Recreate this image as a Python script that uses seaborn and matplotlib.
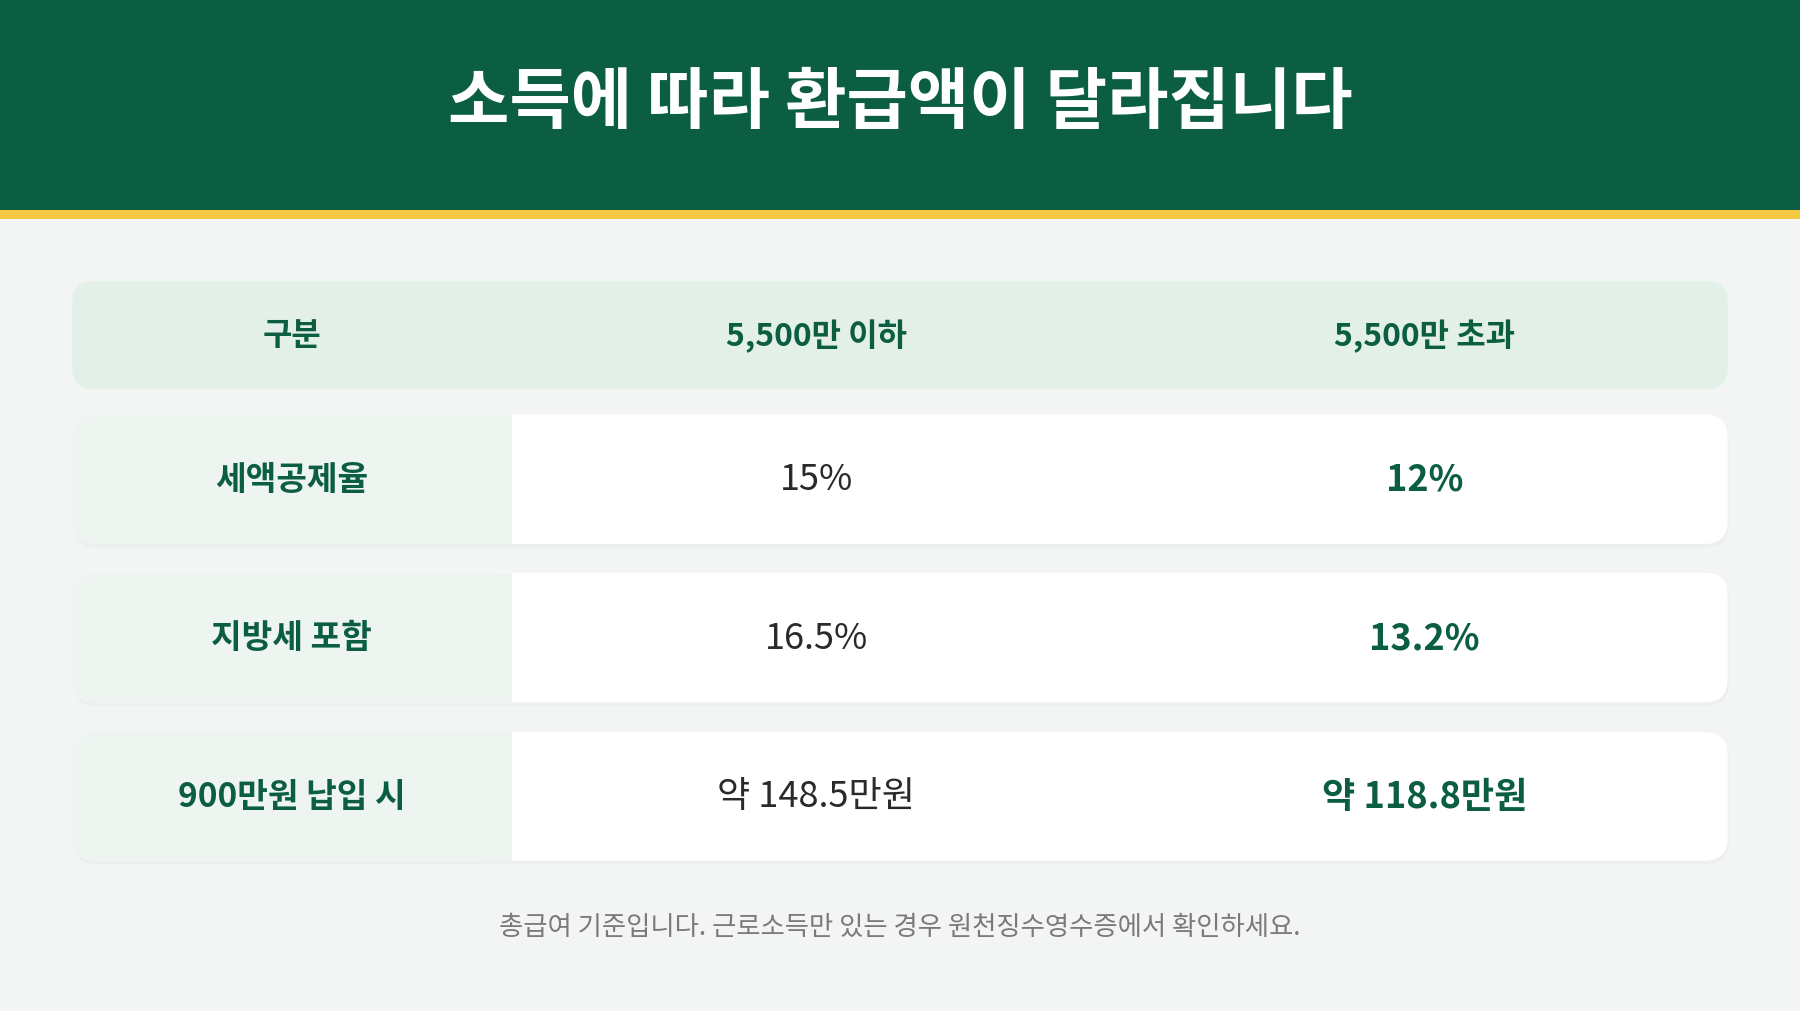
import matplotlib
matplotlib.use("Agg")
import matplotlib.pyplot as plt
import seaborn as sns
from matplotlib.patches import FancyBboxPatch, Rectangle

sns.set_theme(style="white")
plt.rcParams['font.family'] = ['Noto Sans CJK KR', 'DejaVu Sans']

title = "소득에 따라 환급액이 달라집니다"
columns = ["구분", "5,500만 이하", "5,500만 초과"]
row_labels = ["세액공제율", "지방세 포함", "900만원 납입 시"]
low_income = ["15%", "16.5%", "약 148.5만원"]
high_income = ["12%", "13.2%", "약 118.8만원"]
footnote = "총급여 기준입니다. 근로소득만 있는 경우 원천징수영수증에서 확인하세요."

GREEN = "#0b5e41"
W, H = 1568, 882
fig = plt.figure(figsize=(18, 10.12), dpi=100)
fig.patch.set_facecolor("#f3f5f4")
ax = fig.add_axes([0, 0, 1, 1])
ax.set_xlim(0, W); ax.set_ylim(H, 0); ax.axis("off")

ax.add_patch(Rectangle((0, 0), W, 184, color=GREEN, lw=0))
ax.add_patch(Rectangle((0, 184), W, 8, color="#f5c842", lw=0))
ax.text(W / 2, 90, title, ha="center", va="center", color="white",
        fontsize=48, fontweight="bold")

col_x = [254, 711, 1241]
x0, x1 = 63, 1505
ax.add_patch(FancyBboxPatch((x0, 246), x1 - x0, 94, boxstyle="round,pad=0,rounding_size=18",
                            fc="#e3f0e8", ec="none"))
for cx, c in zip(col_x, columns):
    ax.text(cx, 293, c, ha="center", va="center", color=GREEN, fontsize=23, fontweight="bold")

rows_y = [(362, 475), (500, 613), (639, 751)]
for (ya, yb), lab, lo, hi in zip(rows_y, row_labels, low_income, high_income):
    ax.add_patch(FancyBboxPatch((x0 + 1, ya + 3), x1 - x0, yb - ya, boxstyle="round,pad=0,rounding_size=20",
                                fc="#e8ecea", ec="none", alpha=0.6))
    ax.add_patch(FancyBboxPatch((x0, ya), x1 - x0, yb - ya, boxstyle="round,pad=0,rounding_size=20",
                                fc="white", ec="none"))
    ax.add_patch(FancyBboxPatch((x0, ya), 446 - x0, yb - ya, boxstyle="round,pad=0,rounding_size=20",
                                fc="#eef5f1", ec="none"))
    ax.add_patch(Rectangle((420, ya), 26, yb - ya, fc="#eef5f1", ec="none"))
    ym = (ya + yb) / 2
    ax.text(col_x[0], ym, lab, ha="center", va="center", color=GREEN, fontsize=24, fontweight="bold")
    ax.text(col_x[1], ym, lo, ha="center", va="center", color="#2a2a2a", fontsize=26)
    ax.text(col_x[2], ym, hi, ha="center", va="center", color=GREEN, fontsize=26, fontweight="bold")

ax.text(W / 2, 808, footnote, ha="center", va="center", color="#7a7a7a", fontsize=19)
fig.savefig("out.png", dpi=100, facecolor=fig.get_facecolor())
